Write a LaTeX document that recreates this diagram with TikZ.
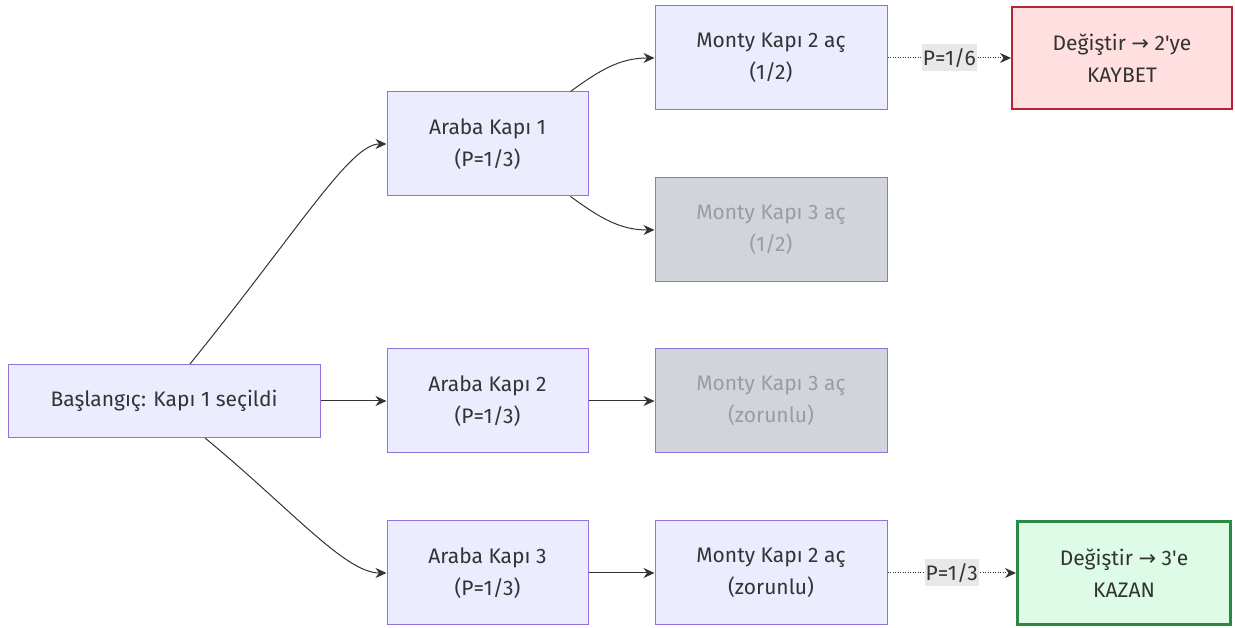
\documentclass[tikz,border=0pt]{standalone}
\usepackage{fontspec}
\setmainfont{Fira Sans}
\newfontfamily\symfont{DejaVu Sans}
\newcommand{\rarr}{{\symfont →}}
\usetikzlibrary{arrows.meta,calc}
\definecolor{nfill}{HTML}{ECECFF}
\definecolor{nline}{HTML}{9370DB}
\definecolor{gfill}{HTML}{D2D4DB}
\definecolor{gtext}{HTML}{9B9CA3}
\definecolor{rfill}{HTML}{FFDFDF}
\definecolor{rline}{HTML}{B3263A}
\definecolor{wfill}{HTML}{DDFBE6}
\definecolor{wline}{HTML}{2A8A40}
\definecolor{edge}{HTML}{333333}
\definecolor{lblbg}{HTML}{E8E8E8}
\definecolor{txt}{HTML}{333333}
\tikzset{
  box/.style={draw=nline, fill=nfill, line width=1pt, align=center, inner sep=0pt, text=txt, font=\fontsize{21}{32}\selectfont},
  greybox/.style={box, fill=gfill, text=gtext},
  losebox/.style={box, fill=rfill, draw=rline, line width=2pt},
  winbox/.style={box, fill=wfill, draw=wline, line width=3pt},
  conn/.style={draw=edge, line width=1pt, -{Stealth[length=11pt,width=10pt]}},
  dotconn/.style={conn, dash pattern=on 1pt off 1.5pt},
  lbl/.style={fill=lblbg, inner sep=1pt, minimum height=27pt, text=txt, font=\fontsize{21}{22}\selectfont}
}
\begin{document}
\begin{tikzpicture}[x=1pt,y=1pt]
\useasboundingbox (0,0) rectangle (1235,628);
\node[box, minimum width=312pt, minimum height=73pt] (start) at (164,227) {Başlangıç: Kapı 1 seçildi};
\node[box, minimum width=201pt, minimum height=104pt] (k1) at (487.5,484) {Araba Kapı 1\\(P=1/3)};
\node[box, minimum width=201pt, minimum height=104pt] (k2) at (487.5,227) {Araba Kapı 2\\(P=1/3)};
\node[box, minimum width=201pt, minimum height=104pt] (k3) at (487.5,55) {Araba Kapı 3\\(P=1/3)};
\node[box, minimum width=232pt, minimum height=104pt] (m2a) at (771,570) {Monty Kapı 2 aç\\(1/2)};
\node[greybox, minimum width=232pt, minimum height=104pt] (m3a) at (771,398) {Monty Kapı 3 aç\\(1/2)};
\node[greybox, minimum width=232pt, minimum height=104pt] (m3z) at (771,227) {Monty Kapı 3 aç\\(zorunlu)};
\node[box, minimum width=232pt, minimum height=104pt] (m2z) at (771,55) {Monty Kapı 2 aç\\(zorunlu)};
\node[losebox, minimum width=220pt, minimum height=102pt] (lose) at (1122,570) {Değiştir \rarr{} 2\textquotesingle ye\\KAYBET};
\node[winbox, minimum width=213pt, minimum height=103pt] (win) at (1124,55) {Değiştir \rarr{} 3\textquotesingle e\\KAZAN};

\draw[conn] ([xshift=26pt]start.north) .. controls (300,400) and (350,484) .. (k1.west);
\draw[conn] (start.east) -- (k2.west);
\draw[conn] ([xshift=41pt]start.south) .. controls (290,120) and (345,55) .. (k3.west);
\draw[conn] ([xshift=-18pt]k1.north east) .. controls (600,558) and (620,570) .. (m2a.west);
\draw[conn] ([xshift=-18pt]k1.south east) .. controls (600,410) and (620,398) .. (m3a.west);
\draw[conn] (k2.east) -- (m3z.west);
\draw[conn] (k3.east) -- (m2z.west);
\draw[dotconn] (m2a.east) -- node[lbl] (l1) {P=1/6} (lose.west);
\draw[dotconn] (m2z.east) -- node[lbl] (l2) {P=1/3} (win.west);
\end{tikzpicture}
\end{document}
